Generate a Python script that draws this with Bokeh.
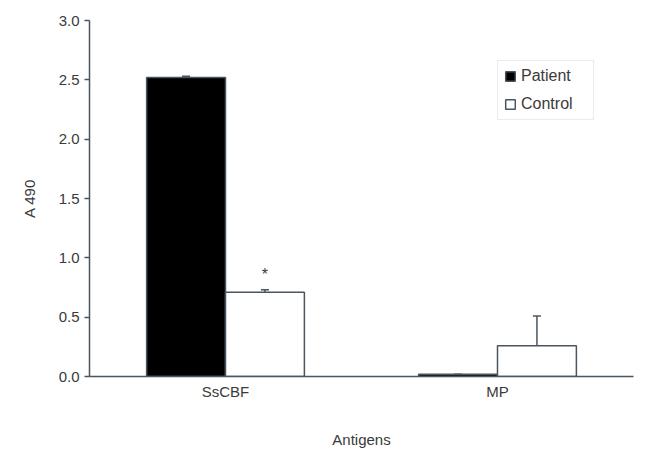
from bokeh.plotting import figure
from bokeh.models import ColumnDataSource, FactorRange, Range1d, FixedTicker, Whisker, TeeHead, Legend, LegendItem
from bokeh.transform import dodge
from bokeh.core.properties import value
from bokeh.embed import file_html
from bokeh.resources import INLINE

categories = ["SsCBF", "MP"]
patient = [2.52, 0.02]
patient_err = [0.01, 0.0]
control = [0.71, 0.26]
control_err = [0.02, 0.25]
marks = ["*", ""]

FONT = "Liberation Sans"
AX = "#4a5560"
TXT = "#3a3a3a"

src = ColumnDataSource(dict(
    cat=categories,
    patient=patient,
    patient_up=[a + b for a, b in zip(patient, patient_err)],
    control=control,
    control_up=[a + b for a, b in zip(control, control_err)],
    mark_y=[a + b + 0.13 for a, b in zip(control, control_err)],
    mark=marks,
))

p = figure(x_range=FactorRange(factors=categories), y_range=Range1d(0, 3.0),
           width=640, height=450, output_backend="svg", toolbar_location=None,
           min_border_left=89, min_border_right=7, min_border_top=20, min_border_bottom=74)
p.outline_line_color = None
p.grid.visible = False
p.background_fill_color = "white"

off = 0.145
w = 0.29
rp = p.vbar(x=dodge("cat", -off, range=p.x_range), top="patient", width=w, source=src,
            fill_color="black", line_color=AX, line_width=1.5)
rc = p.vbar(x=dodge("cat", off, range=p.x_range), top="control", width=w, source=src,
            fill_color="white", line_color=AX, line_width=1.5)

p.add_layout(Whisker(base=dodge("cat", -off, range=p.x_range), lower="patient", upper="patient_up",
                     source=src, line_color=AX, line_width=1.5, lower_head=None,
                     upper_head=TeeHead(size=8, line_color=AX, line_width=1.5)))
p.add_layout(Whisker(base=dodge("cat", off, range=p.x_range), lower="control", upper="control_up",
                     source=src, line_color=AX, line_width=1.5, lower_head=None,
                     upper_head=TeeHead(size=8, line_color=AX, line_width=1.5)))

p.text(x=dodge("cat", off, range=p.x_range), y="mark_y", text="mark", source=src,
       text_align="center", text_baseline="middle", text_font=value(FONT),
       text_font_size="16px", text_color=TXT)

# axes
p.yaxis.ticker = FixedTicker(ticks=[0, 0.5, 1.0, 1.5, 2.0, 2.5, 3.0])
p.yaxis.major_label_overrides = {0: "0.0", 0.5: "0.5", 1: "1.0", 1.5: "1.5", 2: "2.0", 2.5: "2.5", 3: "3.0"}
p.yaxis.minor_tick_line_color = None
p.yaxis.major_tick_in = 0
p.yaxis.major_tick_out = 5
for ax in (p.xaxis, p.yaxis):
    ax.axis_line_color = AX
    ax.axis_line_width = 1.5
    ax.major_tick_line_color = AX
    ax.major_tick_line_width = 1.5
    ax.major_label_text_font = FONT
    ax.major_label_text_font_size = "15px"
    ax.major_label_text_color = TXT
    ax.axis_label_text_font = FONT
    ax.axis_label_text_font_size = "15px"
    ax.axis_label_text_font_style = "normal"
    ax.axis_label_text_color = TXT
p.xaxis.major_tick_line_color = None
p.xaxis.major_label_standoff = 0
p.xaxis.axis_label = "Antigens"
p.xaxis.axis_label_standoff = 28
p.yaxis.axis_label = "A 490"
p.yaxis.axis_label_standoff = 18

legend = Legend(items=[LegendItem(label="Patient", renderers=[rp]),
                       LegendItem(label="Control", renderers=[rc])],
                location=(408, 256))
legend.label_text_font = FONT
legend.label_text_font_size = "16px"
legend.label_text_color = TXT
legend.border_line_color = "#d8d8d8"
legend.glyph_width = 12
legend.glyph_height = 12
legend.label_standoff = 5
legend.label_width = 66
legend.label_height = 18
legend.spacing = 10
legend.padding = 6
legend.margin = 0
p.add_layout(legend)

open("out.html", "w").write(file_html(p, INLINE))
